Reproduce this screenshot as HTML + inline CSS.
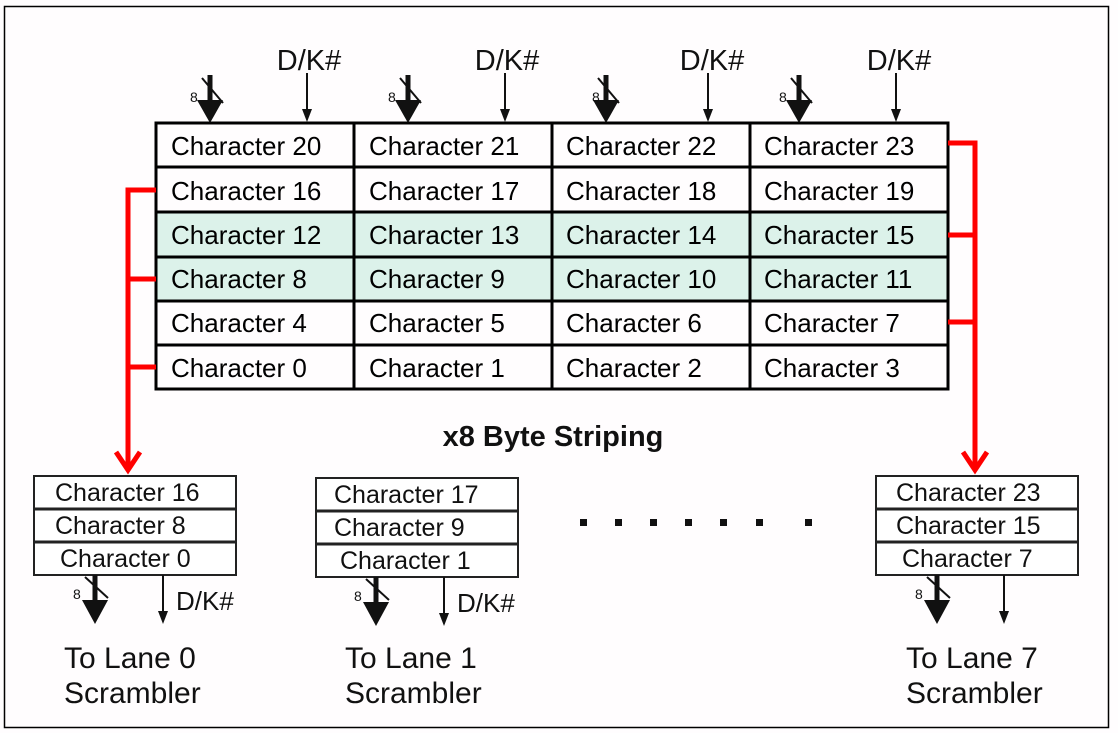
<!DOCTYPE html>
<html><head><meta charset="utf-8"><style>
html,body{margin:0;padding:0;background:#fff;}
svg{display:block;font-family:"Liberation Sans",Arial,sans-serif;}
</style></head><body>
<svg width="1118" height="733" viewBox="0 0 1118 733" xmlns="http://www.w3.org/2000/svg">
<rect x="0" y="0" width="1118" height="733" fill="#fffdfe"/>
<rect x="4.5" y="6.5" width="1104" height="721" fill="none" stroke="#000" stroke-width="1.5"/>

<rect x="156" y="212" width="792" height="89" fill="#dcf2ea"/>

<g stroke="#000" stroke-width="3" fill="none">
<rect x="156" y="123" width="792" height="266"/>
<line x1="156" y1="167" x2="948" y2="167"/>
<line x1="156" y1="212" x2="948" y2="212"/>
<line x1="156" y1="257" x2="948" y2="257"/>
<line x1="156" y1="301" x2="948" y2="301"/>
<line x1="156" y1="345" x2="948" y2="345"/>
<line x1="354" y1="123" x2="354" y2="389"/>
<line x1="552" y1="123" x2="552" y2="389"/>
<line x1="750" y1="123" x2="750" y2="389"/>
</g>

<g font-size="26" fill="#000">
<text x="171" y="155">Character 20</text><text x="369" y="155">Character 21</text><text x="566" y="155">Character 22</text><text x="764" y="155">Character 23</text>
<text x="171" y="200">Character 16</text><text x="369" y="200">Character 17</text><text x="566" y="200">Character 18</text><text x="764" y="200">Character 19</text>
<text x="171" y="244">Character 12</text><text x="369" y="244">Character 13</text><text x="566" y="244">Character 14</text><text x="764" y="244">Character 15</text>
<text x="171" y="288">Character 8</text><text x="369" y="288">Character 9</text><text x="566" y="288">Character 10</text><text x="764" y="288">Character 11</text>
<text x="171" y="332">Character 4</text><text x="369" y="332">Character 5</text><text x="566" y="332">Character 6</text><text x="764" y="332">Character 7</text>
<text x="171" y="377">Character 0</text><text x="369" y="377">Character 1</text><text x="566" y="377">Character 2</text><text x="764" y="377">Character 3</text>
</g>

<g fill="#111" stroke="#111">
<line x1="210" y1="75" x2="210" y2="104" stroke-width="5"/><polygon points="197,100 223,100 210,123" stroke="none"/>
<line x1="202" y1="78" x2="223" y2="103" stroke-width="2"/>
<line x1="307" y1="73" x2="307" y2="112" stroke-width="2"/><polygon points="302,109 312,109 307,122" stroke="none"/>
<line x1="408" y1="75" x2="408" y2="104" stroke-width="5"/><polygon points="395,100 421,100 408,123" stroke="none"/>
<line x1="400" y1="78" x2="421" y2="103" stroke-width="2"/>
<line x1="505" y1="73" x2="505" y2="112" stroke-width="2"/><polygon points="500,109 510,109 505,122" stroke="none"/>
<line x1="606" y1="75" x2="606" y2="104" stroke-width="5"/><polygon points="593,100 619,100 606,123" stroke="none"/>
<line x1="598" y1="78" x2="619" y2="103" stroke-width="2"/>
<line x1="708" y1="73" x2="708" y2="112" stroke-width="2"/><polygon points="703,109 713,109 708,122" stroke="none"/>
<line x1="799" y1="75" x2="799" y2="104" stroke-width="5"/><polygon points="786,100 812,100 799,123" stroke="none"/>
<line x1="791" y1="78" x2="812" y2="103" stroke-width="2"/>
<line x1="896" y1="73" x2="896" y2="112" stroke-width="2"/><polygon points="891,109 901,109 896,122" stroke="none"/>
</g>
<g font-size="29" fill="#111" text-anchor="middle">
<text x="309" y="70">D/K#</text><text x="507" y="70">D/K#</text><text x="712" y="70">D/K#</text><text x="899" y="70">D/K#</text>
</g>
<g font-size="14" fill="#111">
<text x="190" y="102">8</text><text x="388" y="102">8</text><text x="592" y="102">8</text><text x="779" y="102">8</text>
</g>

<g stroke="#f00" stroke-width="5" fill="none">
<polyline points="156,190 128,190 128,466"/>
<line x1="128" y1="279" x2="156" y2="279"/>
<line x1="128" y1="367" x2="156" y2="367"/>
<polyline points="948,143 975,143 975,466"/>
<line x1="948" y1="235" x2="975" y2="235"/>
<line x1="948" y1="322" x2="975" y2="322"/>
<polyline points="116,452 128,470 140,452"/>
<polyline points="963,452 975,470 987,452"/>
</g>

<text x="553" y="446" font-size="29" font-weight="bold" text-anchor="middle" fill="#111">x8 Byte Striping</text>

<g stroke="#222" stroke-width="2" fill="#fff">
<rect x="34" y="476" width="202" height="99"/>
<line x1="34" y1="509" x2="236" y2="509" stroke-width="3"/><line x1="34" y1="542" x2="236" y2="542" stroke-width="3"/>
<rect x="316" y="478" width="202" height="99"/>
<line x1="316" y1="511" x2="518" y2="511" stroke-width="3"/><line x1="316" y1="544" x2="518" y2="544" stroke-width="3"/>
<rect x="876" y="476" width="202" height="99"/>
<line x1="876" y1="509" x2="1078" y2="509" stroke-width="3"/><line x1="876" y1="542" x2="1078" y2="542" stroke-width="3"/>
</g>
<g font-size="25" fill="#111">
<text x="55" y="501">Character 16</text><text x="55" y="534">Character 8</text><text x="60" y="567">Character 0</text>
<text x="334" y="503">Character 17</text><text x="334" y="536">Character 9</text><text x="340" y="569">Character 1</text>
<text x="896" y="501">Character 23</text><text x="896" y="534">Character 15</text><text x="902" y="567">Character 7</text>
</g>

<g fill="#111">
<rect x="580" y="519" width="7" height="7"/><rect x="615" y="519" width="7" height="7"/><rect x="650" y="519" width="7" height="7"/>
<rect x="685" y="519" width="7" height="7"/><rect x="720" y="519" width="7" height="7"/><rect x="756" y="519" width="7" height="7"/>
<rect x="805" y="519" width="7" height="7"/>
</g>

<g fill="#111" stroke="#111">
<line x1="95" y1="575" x2="95" y2="604" stroke-width="5"/><polygon points="82,600 108,600 95,624" stroke="none"/>
<line x1="85" y1="577" x2="108" y2="598" stroke-width="2"/>
<line x1="163" y1="575" x2="163" y2="614" stroke-width="2"/><polygon points="158,611 168,611 163,624" stroke="none"/>
<line x1="376" y1="577" x2="376" y2="606" stroke-width="5"/><polygon points="363,602 389,602 376,626" stroke="none"/>
<line x1="366" y1="579" x2="389" y2="600" stroke-width="2"/>
<line x1="444" y1="577" x2="444" y2="616" stroke-width="2"/><polygon points="439,613 449,613 444,626" stroke="none"/>
<line x1="937" y1="575" x2="937" y2="604" stroke-width="5"/><polygon points="924,600 950,600 937,624" stroke="none"/>
<line x1="927" y1="577" x2="950" y2="598" stroke-width="2"/>
<line x1="1004" y1="575" x2="1004" y2="614" stroke-width="2"/><polygon points="999,611 1009,611 1004,624" stroke="none"/>
</g>
<g font-size="14" fill="#111">
<text x="73" y="599">8</text><text x="354" y="601">8</text><text x="915" y="599">8</text>
</g>
<g font-size="26" fill="#111">
<text x="176" y="610">D/K#</text><text x="457" y="612">D/K#</text>
</g>
<g font-size="30" fill="#111">
<text x="64" y="668">To Lane 0</text><text x="64" y="703">Scrambler</text>
<text x="345" y="668">To Lane 1</text><text x="345" y="703">Scrambler</text>
<text x="906" y="668">To Lane 7</text><text x="906" y="703">Scrambler</text>
</g>
</svg>
</body></html>
